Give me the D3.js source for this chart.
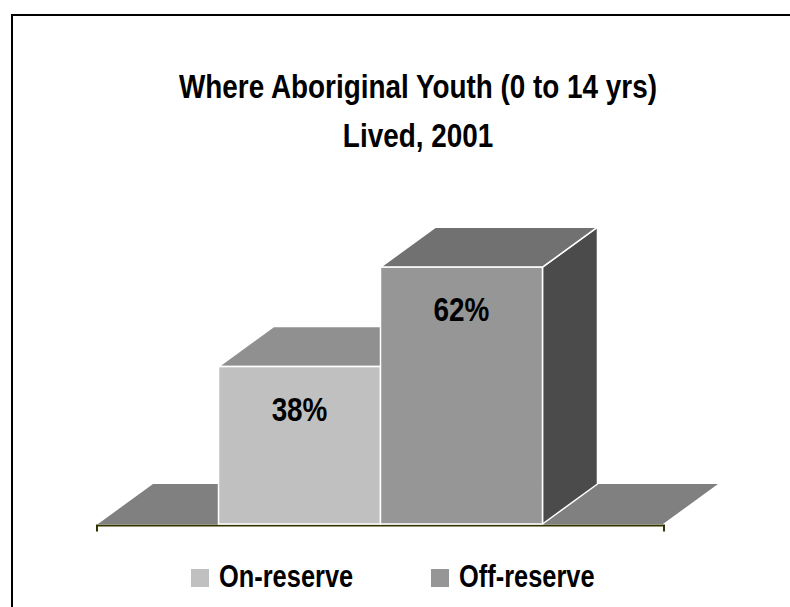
<!DOCTYPE html>
<html>
<head>
<meta charset="utf-8">
<script src="https://cdn.jsdelivr.net/npm/d3@7"></script>
<style>
  html, body { margin: 0; padding: 0; background: #fff; }
  svg { display: block; }
  text { font-family: "Liberation Sans", Arial, sans-serif; font-weight: bold; fill: #000; }
</style>
</head>
<body>
<svg id="chart" width="790" height="607"></svg>
<script>
const titleLines = ["Where Aboriginal Youth (0 to 14 yrs)", "Lived, 2001"];
const categories = ["On-reserve", "Off-reserve"];
const values = [38, 62];
const valueLabels = ["38%", "62%"];
const colors = ["#C0C0C0", "#969696"];

const NARROW = 0.82; // Arial Narrow ≈ 82% width of Arial
const svg = d3.select("#chart");

function narrowText(parent, tx, ty, size, anchor, str) {
  return parent.append("text")
    .attr("transform", `translate(${tx},${ty}) scale(${NARROW},1)`)
    .attr("text-anchor", anchor).attr("font-size", size).text(str);
}

// frame
svg.append("rect").attr("x", 12).attr("y", 15).attr("width", 900).attr("height", 700)
  .attr("fill", "none").attr("stroke", "#000").attr("stroke-width", 2);

// title
narrowText(svg, 418, 98, 34, "middle", titleLines[0]);
narrowText(svg, 418, 147, 34, "middle", titleLines[1]);

// scales
const floorY = 524;
const dx = 55, dy = 40;
const x = d3.scaleBand().domain(categories).range([98, 663]).paddingInner(0).paddingOuter(0.744);
const y = d3.scaleLinear().domain([0, 70]).range([floorY, floorY - 290]);
const [x0, x1] = x.range();

// floor
svg.append("polygon")
  .attr("points", [[x0, floorY], [x1, floorY], [x1 + dx, floorY - dy], [x0 + dx, floorY - dy]].join(" "))
  .attr("fill", "#808080");

// axis line
const axis = d3.axisBottom(x).tickValues([]).tickSizeOuter(6).tickSizeInner(0);
const axisG = svg.append("g").attr("transform", `translate(0,${floorY + 1.5})`).call(axis);
axisG.select(".domain").attr("stroke", "#333300").attr("stroke-width", 2)
  .attr("d", `M${x0 - 1},6V0H${x1 + 1}V6`);

const shade = (c, k) => { const r = d3.rgb(c); return d3.rgb(r.r * k, r.g * k, r.b * k).formatHex(); };

const data = categories.map((c, i) => ({ c, v: values[i], label: valueLabels[i], color: colors[i] }));

const bars = svg.append("g").selectAll("g").data(data).join("g");
bars.each(function (d) {
  const g = d3.select(this);
  const xl = x(d.c), xr = x(d.c) + x.bandwidth();
  const yt = y(d.v), yb = y(0);
  // side
  g.append("polygon")
    .attr("points", [[xr, yb], [xr + dx, yb - dy], [xr + dx, yt - dy], [xr, yt]].join(" "))
    .attr("fill", shade(d.color, 0.5)).attr("stroke", "#fff").attr("stroke-width", 1.5).attr("stroke-linejoin", "round");
  // top
  g.append("polygon")
    .attr("points", [[xl, yt], [xr, yt], [xr + dx, yt - dy], [xl + dx, yt - dy]].join(" "))
    .attr("fill", shade(d.color, 0.75)).attr("stroke", "#fff").attr("stroke-width", 1.5).attr("stroke-linejoin", "round");
  // front
  g.append("rect").attr("x", xl).attr("y", yt).attr("width", xr - xl).attr("height", yb - yt)
    .attr("fill", d.color).attr("stroke", "#fff").attr("stroke-width", 1.5);
  // label
  narrowText(g, (xl + xr) / 2, yt + 54, 34, "middle", d.label);
});

// legend
const legendX = [191, 431];
const leg = svg.append("g").selectAll("g").data(data).join("g")
  .attr("transform", (d, i) => `translate(${legendX[i]},569)`);
leg.append("rect").attr("width", 18).attr("height", 18).attr("fill", d => d.color);
leg.each(function (d) { narrowText(d3.select(this), 28, 18, 31, "start", d.c); });
</script>
</body>
</html>
